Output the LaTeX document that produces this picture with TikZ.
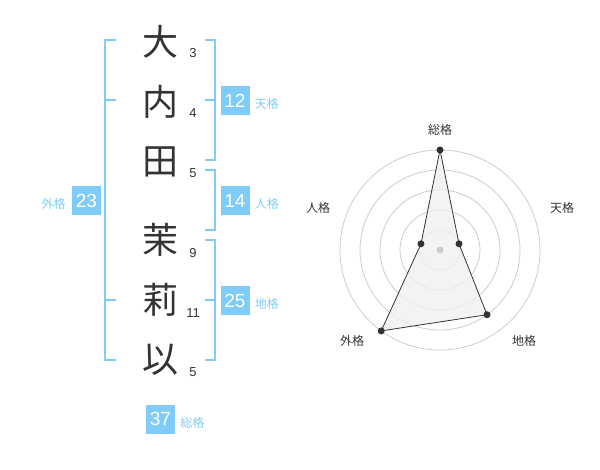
\documentclass[tikz,border=0pt]{standalone}
\usepackage{fontspec}
\setmainfont{Liberation Sans}
\newfontfamily\cjk{Noto Sans CJK JP}
\usetikzlibrary{positioning,calc}
\definecolor{kakublue}{RGB}{128,204,248}
\definecolor{inkgray}{RGB}{51,51,51}
\definecolor{ringgray}{RGB}{204,204,204}
\definecolor{fillgray}{RGB}{240,240,240}
\begin{document}
\begin{tikzpicture}[
  x=1pt, y=-1pt,
  kanji/.style={font=\cjk\fontsize{36}{36}\selectfont, text=inkgray, inner sep=0pt},
  strokes/.style={font=\fontsize{13}{13}\selectfont, text=inkgray, inner sep=0pt},
  kakubox/.style={fill=kakublue, text=white, minimum size=29pt, inner sep=0pt,
    font=\fontsize{19}{19}\selectfont},
  kakulabel/.style={font=\cjk\fontsize{12}{12}\selectfont, text=kakublue, inner sep=0pt},
  bracket/.style={draw=kakublue, line width=2pt},
  axislabel/.style={font=\cjk\fontsize{12}{12}\selectfont, text=inkgray, inner sep=0pt},
  dot/.style={circle, fill=inkgray, minimum size=7pt, inner sep=0pt},
  ]
  \useasboundingbox (0,0) rectangle (600,470);

  % name and stroke counts
  \foreach \ch/\n/\y/\ny [count=\i] in
    {大/3/42/53, 内/4/102/113, 田/5/162/173, 茉/9/240/253, 莉/11/300/313, 以/5/360/372}
  {
    \node [kanji]   (c\i) at (160,\y)  {\ch};
    \node [strokes] (n\i) at (193,\ny) {\n};
  }

  % brackets
  \draw [bracket] (116,40) -- (105,40) -- (105,360) -- (116,360);
  \draw [bracket] (105,100) -- (116,100);
  \draw [bracket] (105,300) -- (116,300);
  \draw [bracket] (205,40) -- (215,40) -- (215,160) -- (205,160);
  \draw [bracket] (205,100) -- (215,100);
  \draw [bracket] (205,170) -- (215,170) -- (215,230) -- (205,230);
  \draw [bracket] (205,240) -- (215,240) -- (215,360) -- (205,360);
  \draw [bracket] (205,300) -- (215,300);

  % kaku boxes
  \node [kakubox] (ten) at (235,100.5) {12};
  \node [kakubox] (jin) at (235,200.5) {14};
  \node [kakubox] (chi) at (235,300.5) {25};
  \node [kakubox] (gai) at (86.5,200.5) {23};
  \node [kakubox] (sou) at (160.5,419)  {37};
  \node [kakulabel, right=5pt of ten, yshift=-3.5pt] (ten-l) {天格};
  \node [kakulabel, right=5pt of jin, yshift=-3.5pt] (jin-l) {人格};
  \node [kakulabel, right=5pt of chi, yshift=-3.5pt] (chi-l) {地格};
  \node [kakulabel, left=6pt of gai, yshift=-3.5pt]  (gai-l) {外格};
  \node [kakulabel, right=5pt of sou, yshift=-3.5pt] (sou-l) {総格};

  % radar
  \begin{scope}[shift={(440,250)}, yscale=-1]
    \foreach \r in {20,40,...,100}
      \draw [ringgray, line width=0.8pt] (0,0) circle (\r pt);
    \coordinate (p-sou) at (90:100);
    \coordinate (p-ten) at (18:20);
    \coordinate (p-chi) at (-54:80);
    \coordinate (p-gai) at (-126:100);
    \coordinate (p-jin) at (162:20);
    \filldraw [fill=fillgray, fill opacity=0.8, draw=inkgray, line width=0.8pt]
      (p-sou) -- (p-ten) -- (p-chi) -- (p-gai) -- (p-jin) -- cycle;
    \node [dot, fill=ringgray] (d-mid) at (0,0) {};
    \foreach \p in {sou,ten,chi,gai,jin}
      \node [dot] (d-\p) at (p-\p) {};
    \node [axislabel] (a-sou) at (0,120)    {総格};
    \node [axislabel] (a-ten) at (122,42)   {天格};
    \node [axislabel] (a-chi) at (84,-91)   {地格};
    \node [axislabel] (a-gai) at (-88,-91)  {外格};
    \node [axislabel] (a-jin) at (-122,42)  {人格};
  \end{scope}
\end{tikzpicture}
\end{document}
